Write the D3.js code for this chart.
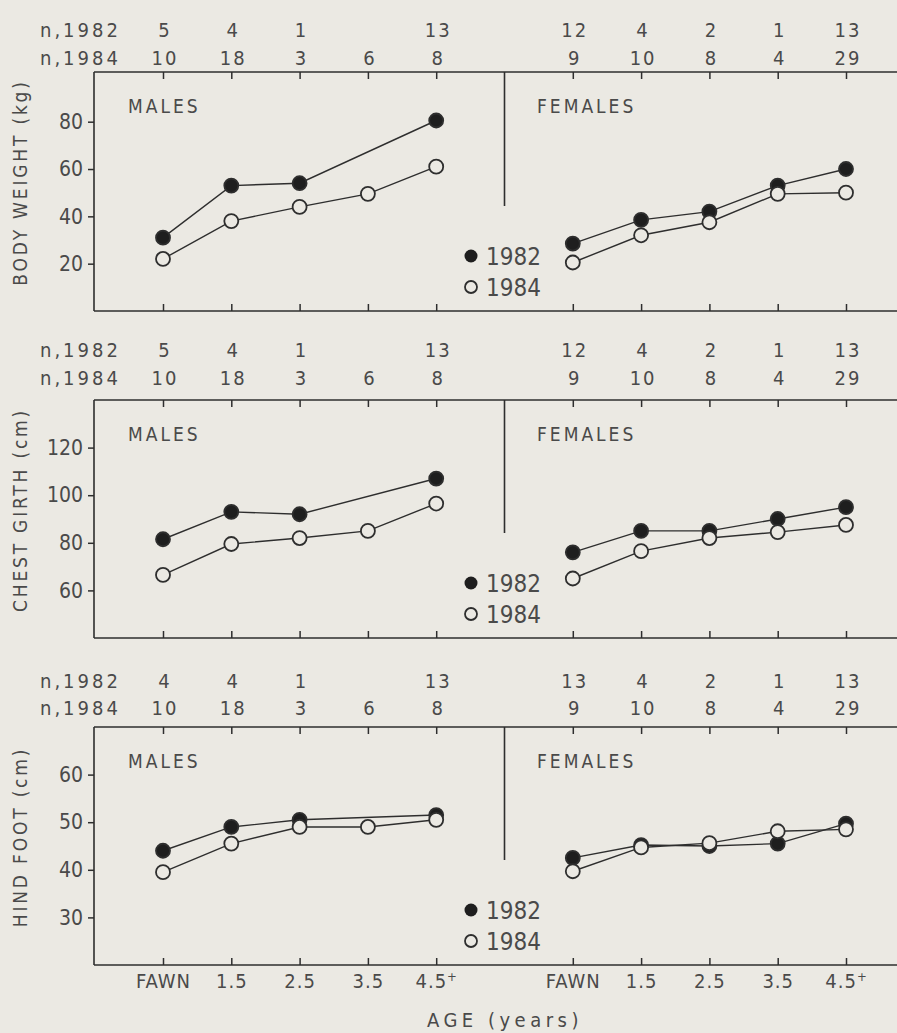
<!DOCTYPE html>
<html>
<head>
<meta charset="utf-8">
<script src="https://cdn.jsdelivr.net/npm/d3@7"></script>
<style>
  body { margin: 0; background: #ebe9e3; }
  svg { display: block; }
  text { font-family: "DejaVu Sans Condensed", "DejaVu Sans", sans-serif; fill: #4a4a4a; }
  .frame { stroke: #2e2e2e; stroke-width: 1.6; fill: none; }
  .series { fill: none; stroke: #2e2e2e; stroke-width: 1.4; }
</style>
</head>
<body>
<svg id="chart" width="897" height="1033"></svg>
<script>
// age classes (males at 0..4, females at 6..10, divider at 5)
const ageLabels = ["FAWN", "1.5", "2.5", "3.5", "4.5"];
const maleIdx = [0, 1, 2, 3, 4];
const femaleIdx = [6, 7, 8, 9, 10];

// body weight (kg)
const bwMale1982 = [31, 53, 54, null, 80.5];
const bwMale1984 = [22, 38, 44, 49.5, 61];
const bwFem1982 = [28.5, 38.5, 42, 53, 60];
const bwFem1984 = [20.5, 32, 37.5, 49.5, 50];
const bwN = {m82: [5, 4, 1, "", 13], m84: [10, 18, 3, 6, 8], f82: [12, 4, 2, 1, 13], f84: [9, 10, 8, 4, 29]};

// chest girth (cm)
const cgMale1982 = [81.5, 93, 92, null, 107];
const cgMale1984 = [66.5, 79.5, 82, 85, 96.5];
const cgFem1982 = [76, 85, 85, 90, 95];
const cgFem1984 = [65, 76.5, 82, 84.5, 87.5];
const cgN = {m82: [5, 4, 1, "", 13], m84: [10, 18, 3, 6, 8], f82: [12, 4, 2, 1, 13], f84: [9, 10, 8, 4, 29]};

// hind foot (cm)
const hfMale1982 = [44, 49, 50.5, null, 51.5];
const hfMale1984 = [39.5, 45.5, 49, 49, 50.5];
const hfFem1982 = [42.5, 45.2, 45, 45.5, 49.7];
const hfFem1984 = [39.7, 44.7, 45.6, 48.1, 48.5];
const hfN = {m82: [4, 4, 1, "", 13], m84: [10, 18, 3, 6, 8], f82: [13, 4, 2, 1, 13], f84: [9, 10, 8, 4, 29]};

const panels = [
  {label: "BODY WEIGHT (kg)", domain: [0, 101], ticks: [20, 40, 60, 80], top: 72, bottom: 311, nOff: [35, 7],
   m82: bwMale1982, m84: bwMale1984, f82: bwFem1982, f84: bwFem1984, n: bwN},
  {label: "CHEST GIRTH (cm)", domain: [40, 140], ticks: [60, 80, 100, 120], top: 400, bottom: 638, nOff: [43, 15],
   m82: cgMale1982, m84: cgMale1984, f82: cgFem1982, f84: cgFem1984, n: cgN},
  {label: "HIND FOOT (cm)", domain: [20, 70], ticks: [30, 40, 50, 60], top: 727, bottom: 965, nOff: [39, 12],
   m82: hfMale1982, m84: hfMale1984, f82: hfFem1982, f84: hfFem1984, n: hfN}
];

const svg = d3.select("#chart");
const left = 94, right = 897;
const x = d3.scaleLinear().domain([0, 10]).range([163, 846]);

panels.forEach((p, pi) => {
  const y = d3.scaleLinear().domain(p.domain).range([p.bottom, p.top]);
  const g = svg.append("g");

  // frame: top, bottom, left
  g.append("line").attr("class", "frame").attr("x1", left).attr("x2", right).attr("y1", p.top).attr("y2", p.top);
  g.append("line").attr("class", "frame").attr("x1", left).attr("x2", right).attr("y1", p.bottom).attr("y2", p.bottom);
  g.append("line").attr("class", "frame").attr("x1", left).attr("x2", left).attr("y1", p.top).attr("y2", p.bottom);
  // divider between males and females
  g.append("line").attr("class", "frame").attr("x1", x(5)).attr("x2", x(5)).attr("y1", p.top).attr("y2", p.bottom - 105);

  // y axis
  const ya = g.append("g").attr("transform", `translate(${left},0)`)
    .call(d3.axisLeft(y).tickValues(p.ticks).tickSize(6).tickPadding(5));
  ya.select(".domain").remove();
  ya.selectAll("line").attr("stroke", "#2e2e2e").attr("stroke-width", 1.5);
  ya.selectAll("text").attr("font-size", 21).attr("font-family", null).attr("fill", "#4a4a4a");

  // inward ticks top and bottom
  const tickIdx = maleIdx.concat(femaleIdx);
  const xt = g.append("g").attr("transform", `translate(0,${p.top})`)
    .call(d3.axisTop(x).tickValues(tickIdx).tickSize(-7).tickFormat(""));
  xt.select(".domain").remove();
  const xb = g.append("g").attr("transform", `translate(0,${p.bottom})`)
    .call(d3.axisBottom(x).tickValues(tickIdx).tickSize(-7).tickPadding(9)
      .tickFormat(d => pi === 2 ? ageLabels[d > 5 ? d - 6 : d] : ""));
  xb.select(".domain").remove();
  g.selectAll(".tick line").attr("stroke", "#2e2e2e").attr("stroke-width", 1.5);
  if (pi === 2) {
    xb.selectAll("text").attr("font-size", 20).attr("font-family", null).attr("fill", "#4a4a4a")
      .attr("letter-spacing", 1)
      .filter(d => d === 4 || d === 10)
      .append("tspan").attr("baseline-shift", "super").attr("font-size", 13).attr("fill", "#4a4a4a").text("+");
  }

  // y label
  g.append("text")
    .attr("transform", `translate(27,${(p.top + p.bottom) / 2 - 9}) rotate(-90)`)
    .attr("text-anchor", "middle").attr("font-size", 19).attr("letter-spacing", 2.8)
    .text(p.label);

  // sample sizes
  g.append("text").attr("x", 40).attr("y", p.top - p.nOff[0]).attr("font-size", 20).attr("letter-spacing", 3).text("n,1982");
  g.append("text").attr("x", 40).attr("y", p.top - p.nOff[1]).attr("font-size", 20).attr("letter-spacing", 3).text("n,1984");
  const nRows = [
    {idx: maleIdx, vals: p.n.m82, off: p.nOff[0]}, {idx: maleIdx, vals: p.n.m84, off: p.nOff[1]},
    {idx: femaleIdx, vals: p.n.f82, off: p.nOff[0]}, {idx: femaleIdx, vals: p.n.f84, off: p.nOff[1]}
  ];
  nRows.forEach(r => {
    g.selectAll(null).data(r.vals).join("text")
      .attr("x", (d, i) => x(r.idx[i]) + 2)
      .attr("y", p.top - r.off)
      .attr("text-anchor", "middle").attr("font-size", 20).attr("letter-spacing", 2)
      .text(d => d);
  });

  // sex labels
  g.append("text").attr("x", 128).attr("y", p.top + 41).attr("font-size", 19).attr("letter-spacing", 3).text("MALES");
  g.append("text").attr("x", 537).attr("y", p.top + 41).attr("font-size", 19).attr("letter-spacing", 3).text("FEMALES");

  // series
  const line = d3.line().x(d => x(d.i)).y(d => y(d.v));
  const series = [
    {idx: maleIdx, vals: p.m82, fill: true}, {idx: maleIdx, vals: p.m84, fill: false},
    {idx: femaleIdx, vals: p.f82, fill: true}, {idx: femaleIdx, vals: p.f84, fill: false}
  ];
  series.forEach(s => {
    const pts = s.vals.map((v, i) => ({i: s.idx[i], v})).filter(d => d.v !== null);
    g.append("path").attr("class", "series").attr("d", line(pts));
  });
  series.forEach(s => {
    const pts = s.vals.map((v, i) => ({i: s.idx[i], v})).filter(d => d.v !== null);
    g.selectAll(null).data(pts).join("circle")
      .attr("cx", d => x(d.i)).attr("cy", d => y(d.v)).attr("r", 7)
      .attr("fill", s.fill ? "#1e1e1e" : "#ebe9e3")
      .attr("stroke", "#2e2e2e").attr("stroke-width", 1.8);
  });

  // legend
  const lg = g.append("g").attr("transform", `translate(471,${p.bottom - 55})`);
  lg.append("circle").attr("r", 6.5).attr("fill", "#1e1e1e");
  lg.append("text").attr("x", 15).attr("y", 9).attr("font-size", 24).text("1982");
  lg.append("circle").attr("cy", 31).attr("r", 6).attr("fill", "none").attr("stroke", "#2e2e2e").attr("stroke-width", 1.8);
  lg.append("text").attr("x", 15).attr("y", 40).attr("font-size", 24).text("1984");
});

// x axis title
svg.append("text").attr("x", 505).attr("y", 1027).attr("text-anchor", "middle")
  .attr("font-size", 20).attr("letter-spacing", 4.5).text("AGE (years)");
</script>
</body>
</html>
